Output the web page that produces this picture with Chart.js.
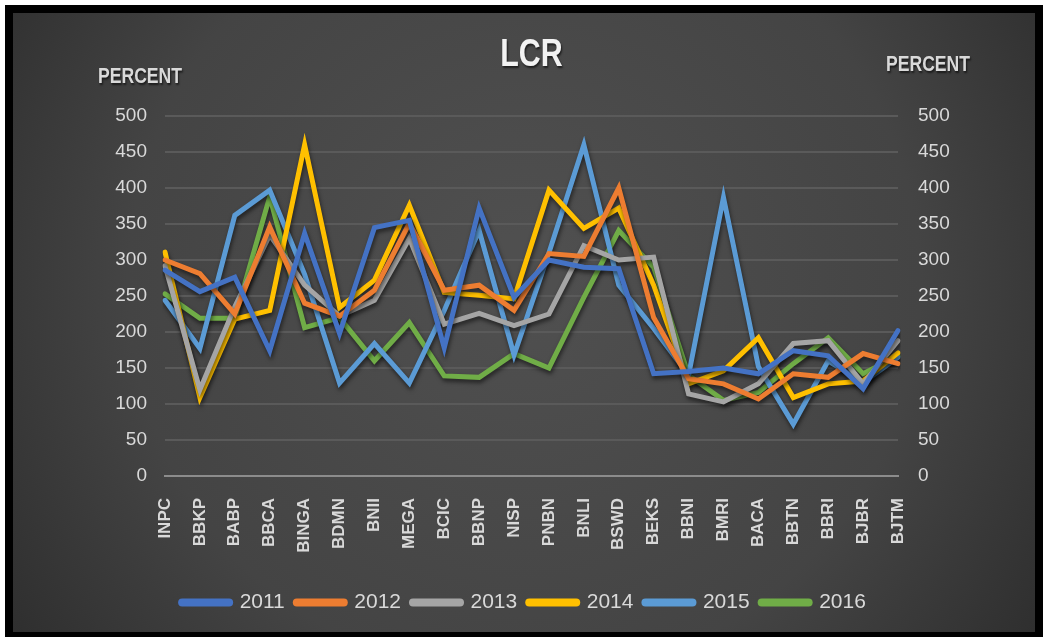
<!DOCTYPE html>
<html>
<head>
<meta charset="utf-8">
<script src="https://cdn.jsdelivr.net/npm/chart.js@4.4.0/dist/chart.umd.min.js"></script>
<style>
    body { margin: 0; background: #ffffff; }
    #frame {
        position: absolute;
        left: 5px;
        top: 5px;
        width: 1022px;
        height: 619px;
        border: 8px solid #000;
    }
</style>
</head>
<body>
<div id="frame"><canvas id="lcr" width="1022" height="619"></canvas></div>
<script>
const banques = ['INPC', 'BBKP', 'BABP', 'BBCA', 'BINGA', 'BDMN', 'BNII', 'MEGA', 'BCIC', 'BBNP', 'NISP',
    'PNBN', 'BNLI', 'BSWD', 'BEKS', 'BBNI', 'BMRI', 'BACA', 'BBTN', 'BBRI', 'BJBR', 'BJTM'];
const annees = ['2011', '2012', '2013', '2014', '2015', '2016'];
const couleurs = ['#4472C4', '#ED7D31', '#A5A5A5', '#FFC000', '#5B9BD5', '#70AD47'];

const lcr2011 = [286, 256, 276, 174, 337, 198, 345, 355, 178, 372, 248, 300, 290, 288, 142, 145, 150, 142, 174, 167, 121, 202];
const lcr2012 = [300, 281, 225, 346, 240, 222, 258, 351, 258, 265, 230, 309, 305, 400, 220, 135, 128, 107, 142, 137, 170, 156];
const lcr2013 = [292, 120, 235, 335, 265, 222, 244, 330, 211, 226, 209, 225, 320, 300, 304, 114, 103, 128, 184, 188, 128, 188];
const lcr2014 = [311, 109, 218, 230, 460, 234, 272, 376, 255, 251, 246, 397, 344, 372, 265, 128, 146, 192, 109, 128, 132, 171];
const lcr2015 = [244, 177, 362, 397, 280, 129, 184, 129, 230, 341, 168, 310, 460, 265, 205, 140, 387, 152, 72, 160, 130, 165];
const lcr2016 = [253, 219, 219, 388, 206, 220, 160, 213, 139, 137, 170, 150, 248, 341, 290, 140, 105, 116, 156, 192, 142, 167];

const series = [lcr2011, lcr2012, lcr2013, lcr2014, lcr2015, lcr2016];
const ticksY = [0, 50, 100, 150, 200, 250, 300, 350, 400, 450, 500];

const police = '"Liberation Sans", Arial, sans-serif';
const texteClair = '#d9d9d9';

// texte étroit (pas de police condensée installée) : on compresse en largeur
function texteEtroit(ctx, texte, x, y, taille, couleur) {
    ctx.save();
    ctx.translate(x, y);
    ctx.scale(0.8, 1);
    ctx.font = 'bold ' + taille + 'px ' + police;
    ctx.fillStyle = couleur;
    ctx.textAlign = 'center';
    ctx.textBaseline = 'middle';
    ctx.fillText(texte, 0, 0);
    ctx.restore();
}

// fond gris dégradé + titres
const fondPlugin = {
    id: 'fond',
    beforeDraw(chart) {
        const ctx = chart.ctx;
        const w = chart.width, h = chart.height;
        const grad = ctx.createRadialGradient(w * 0.5, h * 0.42, 40, w * 0.5, h * 0.45, w * 0.62);
        grad.addColorStop(0, '#4f4f4f');
        grad.addColorStop(0.6, '#444444');
        grad.addColorStop(1, '#2d2d2d');
        ctx.save();
        ctx.fillStyle = grad;
        ctx.fillRect(0, 0, w, h);
        ctx.restore();
    },
    afterDraw(chart) {
        const ctx = chart.ctx;
        const area = chart.chartArea;
        ctx.save();
        ctx.shadowColor = 'rgba(0,0,0,0.6)';
        ctx.shadowOffsetX = 1;
        ctx.shadowOffsetY = 2;
        ctx.shadowBlur = 2;
        texteEtroit(ctx, 'LCR', (area.left + area.right) / 2, 43, 38, '#f2f2f2');
        texteEtroit(ctx, 'PERCENT', 127, 64, 22, texteClair);
        texteEtroit(ctx, 'PERCENT', 915, 52, 22, texteClair);
        ctx.restore();
    }
};

// ombre sous les courbes
const ombrePlugin = {
    id: 'ombre',
    beforeDatasetsDraw(chart) {
        const ctx = chart.ctx;
        ctx.save();
        ctx.shadowColor = 'rgba(0,0,0,0.55)';
        ctx.shadowBlur = 4;
        ctx.shadowOffsetX = 1;
        ctx.shadowOffsetY = 3;
    },
    afterDatasetsDraw(chart) {
        chart.ctx.restore();
    }
};

function creerGraphique() {
    const ctx = document.getElementById('lcr').getContext('2d');

    const datasets = annees.map((annee, i) => ({
        label: annee,
        data: series[i],
        borderColor: couleurs[i],
        backgroundColor: couleurs[i],
        borderWidth: 5,
        borderCapStyle: 'round',
        tension: 0,
        pointRadius: 0,
        fill: false,
        yAxisID: 'y',
    }));

    window.lcrChart = new Chart(ctx, {
        type: 'line',
        data: { labels: banques, datasets },
        options: {
            responsive: false,
            animation: false,
            layout: { padding: { top: 103, bottom: 9, left: 0, right: 0 } },
            plugins: {
                tooltip: { enabled: false },
                legend: {
                    position: 'bottom',
                    labels: {
                        color: texteClair,
                        font: { family: police, size: 21 },
                        usePointStyle: true,
                        pointStyle: 'line',
                        pointStyleWidth: 47,
                        boxHeight: 8,
                        padding: 12,
                        generateLabels(chart) {
                            const items = Chart.defaults.plugins.legend.labels.generateLabels(chart);
                            items.forEach(item => { item.lineWidth = 8; item.lineCap = 'round'; });
                            return items;
                        },
                    },
                },
            },
            scales: {
                x: {
                    grid: { display: false },
                    border: { display: true, color: '#8c8c8c', width: 2 },
                    ticks: {
                        color: texteClair,
                        font: { family: police, size: 17, weight: 'bold' },
                        minRotation: 90,
                        maxRotation: 90,
                        padding: 14,
                        autoSkip: false,
                    },
                    afterFit(scale) { scale.height = 104; },
                },
                y: {
                    position: 'left',
                    min: 0,
                    max: 500,
                    afterBuildTicks(scale) { scale.ticks = ticksY.map(v => ({ value: v })); },
                    grid: { color: '#5a5a5a', lineWidth: 2, drawTicks: false },
                    border: { display: false },
                    ticks: {
                        color: texteClair,
                        font: { family: police, size: 19 },
                        padding: 18,
                    },
                    afterFit(scale) { scale.width = 152; },
                },
                y2: {
                    position: 'right',
                    display: true,
                    min: 0,
                    max: 500,
                    afterBuildTicks(scale) { scale.ticks = ticksY.map(v => ({ value: v })); },
                    grid: { display: false, drawTicks: false },
                    border: { display: false },
                    ticks: {
                        color: texteClair,
                        font: { family: police, size: 19 },
                        padding: 20,
                    },
                    afterFit(scale) { scale.width = 137; },
                },
            },
        },
        plugins: [fondPlugin, ombrePlugin],
    });
}

creerGraphique();
</script>
</body>
</html>
